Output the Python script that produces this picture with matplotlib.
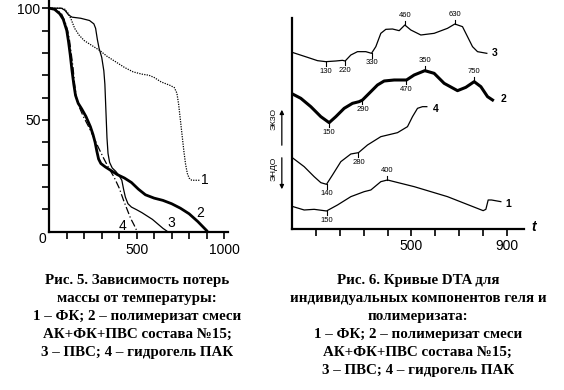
import numpy as np
import matplotlib
matplotlib.use("Agg")
import matplotlib.pyplot as plt

plt.rcParams["font.family"] = ["Liberation Sans", "DejaVu Sans"]

# ── Fig. 5: mass loss (%) vs temperature ─────────────────────────────────────
tga1_x = [0, 70, 90, 110, 125, 145, 170, 200, 250, 290, 330, 380, 430, 480, 530,
          570, 600, 640, 690, 715, 730, 740, 750, 760, 770, 780, 790, 800, 815, 860]
tga1_y = [100, 100, 99.5, 97.5, 95, 91, 88, 85.5, 83, 81, 78.5, 76, 73.5, 71.5, 70.5,
          70, 69, 67, 65.5, 64.5, 62, 57, 50, 43, 36, 30, 26, 24, 23, 23]

tga2_x = [0, 30, 60, 80, 100, 110, 120, 130, 140, 150, 165, 185, 210, 235, 250, 262,
          272, 282, 295, 320, 350, 390, 430, 470, 510, 550, 600, 650, 700, 750, 800,
          850, 900]
tga2_y = [100, 99.5, 97.5, 95, 90, 85, 79, 72, 66, 61, 57.5, 55, 51.5, 47, 43.5, 40,
          36, 32.5, 30.5, 29, 27.5, 25.5, 24, 22, 19, 16.5, 15, 14, 12.5, 10.5, 8,
          4.5, 0.5]

tga3_x = [0, 70, 90, 110, 130, 180, 230, 255, 265, 275, 285, 300, 312, 318, 322, 326,
          330, 336, 345, 360, 380, 400, 415, 425, 435, 450, 470, 500, 530, 560, 590,
          620, 650, 672]
tga3_y = [100, 100, 99, 97, 96, 95.5, 94.5, 93, 91, 86, 82, 78, 72, 66, 58, 50, 42,
          35, 31, 28.5, 27, 25, 23, 19, 15.5, 12.5, 11, 9.8, 8.5, 7, 5.5, 3.5, 1.5, 0.3]

tga4_x = [0, 40, 70, 90, 105, 115, 125, 135, 145, 155, 170, 195, 225, 255, 285, 310,
          340, 370, 400, 425, 445, 465, 485, 500]
tga4_y = [100, 99.5, 97.5, 94, 90, 86, 80, 74, 66, 60, 56, 51.5, 47, 42, 37, 33,
          28.5, 24.5, 19.5, 14, 10, 6, 3, 0.5]

tga_lbl = ["1", "2", "3", "4"]
tga_lbl_x = [891, 863, 700, 420]
tga_lbl_y = [23, 8.2, 3.7, 2.7]

# ── Fig. 6: DTA curves (arbitrary units) ─────────────────────────────────────
dta1_x = [3.5, 49.7, 91.6, 143.4, 189.5, 245.5, 301.4, 329.4, 371.3, 399.3, 511.2,
          651, 800.7, 812, 821.7, 835.7, 874.8]
dta1_y = [6.8, 5.8, 6.0, 5.5, 7.3, 9.8, 11.3, 11.8, 14.3, 14.8, 12.8, 9.8, 5.6,
          6.0, 8.8, 8.8, 8.3]

dta2_x = [3.5, 35.7, 77.6, 119.6, 154.5, 182.5, 217.5, 252.4, 280.4, 294.4, 322.4,
          357.3, 385.3, 427.3, 479, 511.2, 556, 595, 637, 693, 728, 763, 791, 819, 840]
dta2_y = [40.5, 39.3, 36.8, 33.8, 32.0, 33.8, 36.3, 37.8, 38.3, 38.8, 40.8, 43.3,
          44.5, 44.8, 44.8, 46.3, 47.6, 46.8, 43.8, 41.6, 42.6, 44.3, 42.8, 39.8, 38.8]

dta3_x = [3.5, 63.6, 105.6, 140.6, 182.5, 210.5, 221.7, 245.5, 273.4, 308.4, 332.2,
          350.3, 371.3, 392.3, 420.3, 448.3, 472, 497.2, 539.2, 595, 651, 681.8, 714,
          735, 756, 777, 816]
dta3_y = [53.0, 51.6, 50.6, 50.3, 50.5, 50.7, 50.5, 52.3, 53.3, 53.3, 52.8, 54.8,
          58.8, 60.0, 60.1, 59.6, 61.3, 59.8, 58.3, 58.8, 60.3, 61.6, 60.8, 57.8,
          54.8, 53.3, 52.8]

dta4_x = [3.5, 49.7, 91.6, 119.6, 143.4, 168.5, 203.5, 245.5, 277.6, 315.4, 371.3,
          441.3, 483.2, 504.2, 525.2, 546.2, 564.3]
dta4_y = [21.3, 18.8, 15.8, 14.0, 13.5, 16.3, 20.3, 22.6, 23.0, 25.3, 27.8, 29.0,
          30.8, 33.8, 36.3, 36.8, 36.8]

# peak / dip marks: position on the curve, printed value, +1 above / -1 below
mark1_x, mark1_txt, mark1_dir = [143.4, 399.3], ["150", "400"], [-1, 1]
mark2_x = [154.5, 294.4, 479, 556, 763]
mark2_txt = ["150", "290", "470", "350", "750"]
mark2_dir = [-1, -1, -1, 1, 1]
mark3_x = [140.6, 221.7, 332.2, 472, 681.8]
mark3_txt = ["130", "220", "330", "460", "630"]
mark3_dir = [-1, -1, -1, 1, 1]
mark4_x, mark4_txt, mark4_dir = [143.4, 277.6], ["140", "280"], [-1, -1]

dta_lbl = ["1", "2", "3", "4"]
dta_lbl_x = [907, 886, 847, 602]
dta_lbl_y = [7.6, 39.0, 52.8, 36.0]

cap5 = ("Рис. 5. Зависимость потерь\nмассы от температуры:\n"
        "1 – ФК; 2 – полимеризат смеси\nАК+ФК+ПВС состава №15;\n"
        "3 – ПВС; 4 – гидрогель ПАК")
cap6 = ("Рис. 6. Кривые DTA для\nиндивидуальных компонентов геля и\n"
        "полимеризата:\n1 – ФК; 2 – полимеризат смеси\n"
        "АК+ФК+ПВС состава №15;\n3 – ПВС; 4 – гидрогель ПАК")


def style_axes(ax):
    for s in ("top", "right"):
        ax.spines[s].set_visible(False)
    for s in ("left", "bottom"):
        ax.spines[s].set_linewidth(1.6)
    ax.tick_params(width=1.2, length=4.8, labelsize=10, direction="out")


fig = plt.figure(figsize=(5.64, 3.90), dpi=100)

# ── left panel ───────────────────────────────────────────────────────────────
ax1 = fig.add_axes([0.0874, 0.406, 0.3161, 0.593])
style_axes(ax1)
ax1.set_xlim(0, 1020)
ax1.set_ylim(0, 103.5)

ax1.plot(tga1_x, tga1_y, color="k", lw=0.9, ls=(0, (1, 1)))
ax1.plot(tga2_x, tga2_y, color="k", lw=2.0)
ax1.plot(tga3_x, tga3_y, color="k", lw=0.9)
ax1.plot(tga4_x, tga4_y, color="k", lw=0.9, ls=(0, (6, 2, 1, 2)))
for t, x, y in zip(tga_lbl, tga_lbl_x, tga_lbl_y):
    ax1.text(x, y, t, fontsize=10, ha="center", va="center")

ax1.set_xticks(np.arange(100, 1001, 100))
ax1.set_xticklabels(["" if v not in (500, 1000) else str(v)
                     for v in range(100, 1001, 100)])
ax1.set_yticks(np.arange(10, 101, 10))
ax1.set_yticklabels(["" if v not in (50, 100) else str(v)
                     for v in range(10, 101, 10)])
ax1.tick_params(axis="x", pad=3.5)
ax1.tick_params(axis="y", pad=1.5)
ax1.annotate("0", xy=(0, 0), xytext=(-2, -5), textcoords="offset points",
             ha="right", va="center", fontsize=10, annotation_clip=False)

# ── right panel ──────────────────────────────────────────────────────────────
ax2 = fig.add_axes([0.5183, 0.412, 0.4112, 0.541])
style_axes(ax2)
ax2.set_xlim(0, 973)
ax2.set_ylim(0, 63.3)
ax2.set_yticks([])
ax2.set_xticks(np.arange(100, 901, 100))
ax2.set_xticklabels(["" if v not in (500, 900) else str(v)
                     for v in range(100, 901, 100)])
ax2.tick_params(axis="x", pad=2)

curves = [
    (dta1_x, dta1_y, 0.9, mark1_x, mark1_txt, mark1_dir),
    (dta2_x, dta2_y, 2.2, mark2_x, mark2_txt, mark2_dir),
    (dta3_x, dta3_y, 0.9, mark3_x, mark3_txt, mark3_dir),
    (dta4_x, dta4_y, 0.9, mark4_x, mark4_txt, mark4_dir),
]
for cx, cy, lw, mx, mt, md in curves:
    ax2.plot(cx, cy, color="k", lw=lw)
    for x, t, d in zip(mx, mt, md):
        y = np.interp(x, cx, cy)
        ax2.plot([x, x], [y, y + d * 1.3], color="k", lw=0.8)
        ax2.text(x, y + d * 2.9, t, fontsize=5.5, ha="center", va="center")

for t, x, y in zip(dta_lbl, dta_lbl_x, dta_lbl_y):
    ax2.text(x, y, t, fontsize=7.5, fontweight="bold", ha="center", va="center")

ax2.text(1012, 0.8, "t", fontsize=10, fontstyle="italic", fontweight="bold",
         ha="center", va="center", clip_on=False)

# exo / endo arrows left of the axis
ax2.annotate("", xy=(-44, 36.7), xytext=(-44, 24.4), annotation_clip=False,
             arrowprops=dict(arrowstyle="-|>", color="k", lw=0.9,
                             mutation_scale=6))
ax2.annotate("", xy=(-44, 11.2), xytext=(-44, 22.3), annotation_clip=False,
             arrowprops=dict(arrowstyle="-|>", color="k", lw=0.9,
                             mutation_scale=6))
ax2.text(-75, 33.1, "ЭКЗО", rotation=90, fontsize=6, ha="center", va="center",
         clip_on=False)
ax2.text(-75, 18.1, "ЭНДО", rotation=90, fontsize=6, ha="center", va="center",
         clip_on=False)

# ── captions ─────────────────────────────────────────────────────────────────
cap_font = dict(family=["Liberation Serif", "DejaVu Serif"], fontweight="bold",
                fontsize=10.8, ha="center", va="top", linespacing=1.5)
fig.text(0.243, 0.297, cap5, **cap_font)
fig.text(0.741, 0.297, cap6, **cap_font)

fig.savefig("out.png", dpi=100)
